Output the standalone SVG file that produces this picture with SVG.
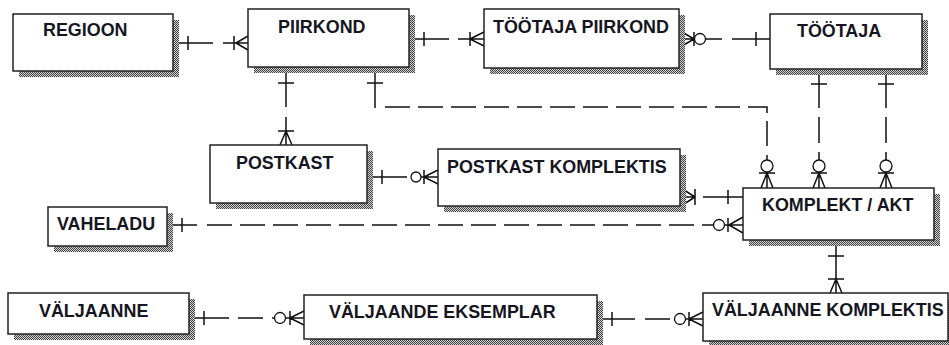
<svg xmlns="http://www.w3.org/2000/svg" width="949" height="345" viewBox="0 0 949 345">
<defs>
<pattern id="hatch" width="2" height="2" patternUnits="userSpaceOnUse">
<rect width="2" height="2" fill="#d0d0d0"/>
<rect width="1" height="1" fill="#444"/>
<rect x="1" y="1" width="1" height="1" fill="#444"/>
</pattern>
<style>
.shadow{fill:url(#hatch)}
.box{fill:#fff;stroke:#222;stroke-width:1.5}
.lbl{font-family:"Liberation Sans",Arial,sans-serif;font-weight:bold;font-size:17.9px;fill:#161622}
.ln{stroke:#111;stroke-width:1.5;fill:none}
.dash{stroke:#111;stroke-width:1.5;fill:none;stroke-dasharray:25 8}
.circ{fill:#fff;stroke:#111;stroke-width:1.3}
</style>
</defs>
<rect width="949" height="345" fill="#fff"/>

<g id="connectors">
<g id="c1">
<path class="ln" d="M173,43H213M223,43H248M188,36V50M234,36V50M236,43L248,36M236,43L248,50"/>
</g>
<g id="c2">
<path class="ln" d="M409,39H449M458,39H484M424,32V46M470,32V46M470,39L484,32M470,39L484,46"/>
</g>
<g id="c3">
<path class="ln" d="M679,39H694M682,32L694,39M682,46L694,39M694,32V46M706,39H722M732,39H770M756,32V46"/>
<circle class="circ" cx="700" cy="39" r="5.5"/>
</g>
<g id="c4">
<path class="ln" d="M819,69V108M819,117V143M819,152V160M811,84H827M811,173H827M819,172V188M819,173L813,188M819,173L825,188"/>
<circle class="circ" cx="819" cy="166" r="6"/>
</g>
<g id="c5">
<path class="ln" d="M886,69V108M886,117V143M886,152V160M878,84H894M878,173H894M886,172V188M886,173L880,188M886,173L892,188"/>
<circle class="circ" cx="886" cy="166" r="6"/>
</g>
<g id="c6">
<path class="ln" d="M375,67V108M367,83H383"/>
<path class="dash" d="M385,107H767V153"/>
<path class="ln" d="M767,155V160M759,173H775M767,172V188M767,173L761,188M767,173L773,188"/>
<circle class="circ" cx="767" cy="166" r="6"/>
</g>
<g id="c7">
<path class="ln" d="M286,67V107M286,117V145M278,83H294M278,131H294M286,131L280,145M286,131L292,145"/>
</g>
<g id="c8">
<path class="ln" d="M367,177H407M382,170V184M421,177H438M424,170V184M424,177L438,170M424,177L438,184"/>
<circle class="circ" cx="416" cy="177" r="5"/>
</g>
<g id="c9">
<path class="ln" d="M680,197H695M684,190L695,197M684,204L695,197M695,189V205M703,197H743M728,190V204"/>
</g>
<g id="c10">
<path class="ln" d="M167,225H197M182,218V232"/>
<path class="dash" d="M207,225H713"/>
<path class="ln" d="M724,225H743M728,218V232M729,225L743,217M729,225L743,233"/>
<circle class="circ" cx="719" cy="225" r="5.5"/>
</g>
<g id="c11">
<path class="ln" d="M836,240V293M828,256H844M828,279H844M836,279L830,293M836,279L842,293"/>
</g>
<g id="c12">
<path class="ln" d="M597,319H635M612,312V326M645,319H670M685,319H703M689,312V326M689,319L703,312M689,319L703,326"/>
<circle class="circ" cx="680" cy="319" r="5.5"/>
</g>
<g id="c13">
<path class="ln" d="M189,318H229M204,311V325M238,318H263M272,318H275M285,318H304M290,311V325M290,318L304,311M290,318L304,325"/>
<circle class="circ" cx="280" cy="318" r="5.5"/>
</g>
</g>

<g id="regioon">
<rect class="shadow" x="19" y="20" width="160" height="57"/>
<rect class="box" x="13" y="14" width="160" height="57"/>
<text class="lbl" x="43" y="36">REGIOON</text>
</g>
<g id="piirkond">
<rect class="shadow" x="254" y="15" width="161" height="58"/>
<rect class="box" x="248" y="9" width="161" height="58"/>
<text class="lbl" x="278" y="33">PIIRKOND</text>
</g>
<g id="tootaja-piirkond">
<rect class="shadow" x="490" y="15" width="195" height="59"/>
<rect class="box" x="484" y="9" width="195" height="59"/>
<text class="lbl" x="493" y="33">TÖÖTAJA PIIRKOND</text>
</g>
<g id="tootaja">
<rect class="shadow" x="776" y="20" width="152" height="55"/>
<rect class="box" x="770" y="14" width="152" height="55"/>
<text class="lbl" x="797" y="37">TÖÖTAJA</text>
</g>
<g id="postkast">
<rect class="shadow" x="216" y="151" width="157" height="58"/>
<rect class="box" x="210" y="145" width="157" height="58"/>
<text class="lbl" x="236" y="169">POSTKAST</text>
</g>
<g id="postkast-komplektis">
<rect class="shadow" x="444" y="155" width="242" height="57"/>
<rect class="box" x="438" y="149" width="242" height="57"/>
<text class="lbl" x="447" y="173">POSTKAST KOMPLEKTIS</text>
</g>
<g id="komplekt-akt">
<rect class="shadow" x="749" y="194" width="191" height="52"/>
<rect class="box" x="743" y="188" width="191" height="52"/>
<text class="lbl" x="762" y="211">KOMPLEKT / AKT</text>
</g>
<g id="vaheladu">
<rect class="shadow" x="54" y="213" width="119" height="39"/>
<rect class="box" x="48" y="207" width="119" height="39"/>
<text class="lbl" x="57" y="230">VAHELADU</text>
</g>
<g id="valjaanne">
<rect class="shadow" x="14" y="299" width="181" height="41"/>
<rect class="box" x="8" y="293" width="181" height="41"/>
<text class="lbl" x="39" y="317">VÄLJAANNE</text>
</g>
<g id="valjaande-eksemplar">
<rect class="shadow" x="310" y="301" width="293" height="44"/>
<rect class="box" x="304" y="295" width="293" height="44"/>
<text class="lbl" x="329" y="318">VÄLJAANDE EKSEMPLAR</text>
</g>
<g id="valjaanne-komplektis">
<rect class="shadow" x="709" y="299" width="245" height="48"/>
<rect class="box" x="703" y="293" width="245" height="48"/>
<text class="lbl" x="712" y="316">VÄLJAANNE KOMPLEKTIS</text>
</g>
</svg>
